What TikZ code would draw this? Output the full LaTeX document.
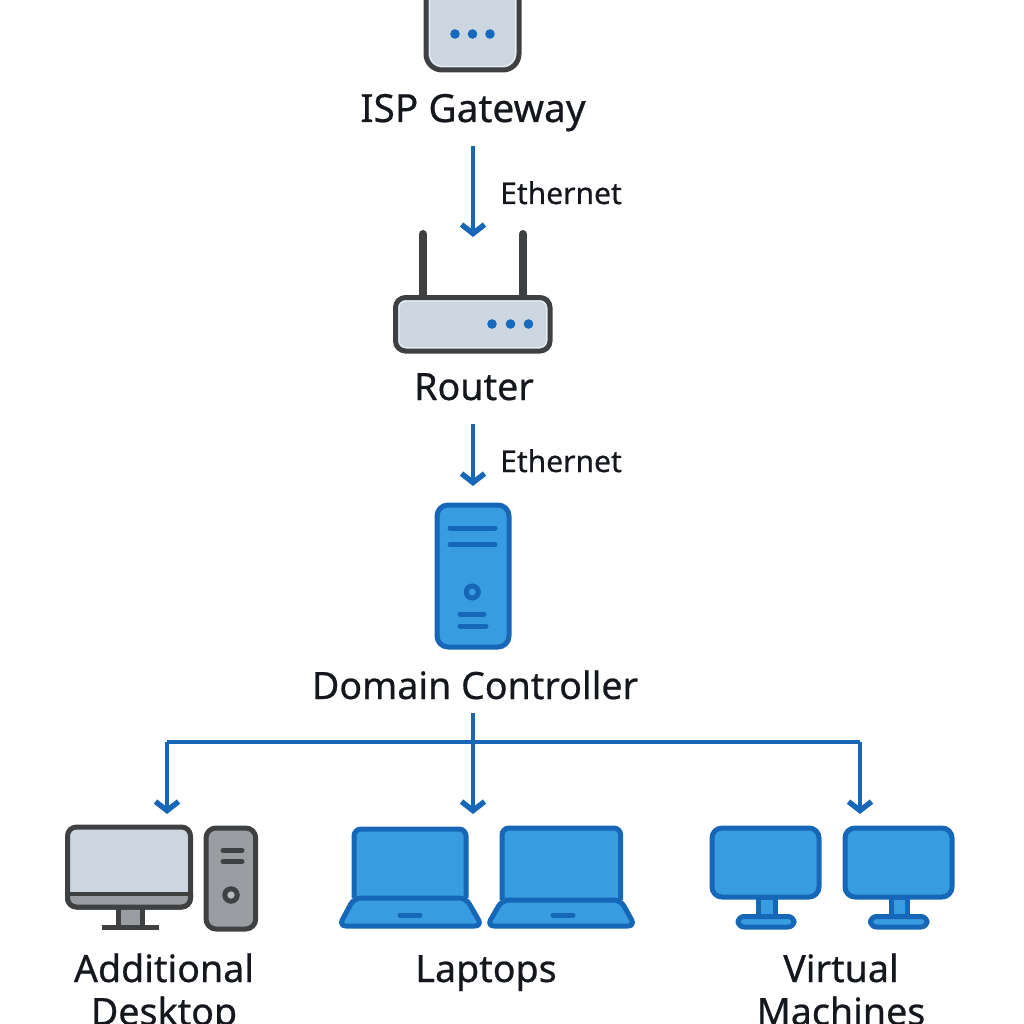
\documentclass[tikz,border=0pt]{standalone}
\usepackage{fontspec}
\setmainfont[FakeBold=0.6]{Noto Sans}
\usetikzlibrary{arrows.meta}
\definecolor{darkline}{HTML}{3F4042}
\definecolor{paleface}{HTML}{CCD6E0}
\definecolor{paleedge}{HTML}{E8EEF3}
\definecolor{greyface}{HTML}{9A9DA1}
\definecolor{blueface}{HTML}{379CE0}
\definecolor{blueline}{HTML}{1667B7}
\definecolor{dotblue}{HTML}{1669BC}
\definecolor{inktext}{HTML}{14171C}
\tikzset{
  x=1pt,y=-1pt,
  paleshape/.style={draw=darkline,fill=paleface,line width=5pt},
  greyshape/.style={draw=darkline,fill=greyface,line width=5pt},
  blueshape/.style={draw=blueline,fill=blueface,line width=5pt,line join=round},
  sheen/.style={draw=paleedge,line width=1pt},
  darkbar/.style={draw=darkline,line width=5pt,line cap=round},
  bluebar/.style={draw=blueline,line width=5pt,line cap=round},
  leddot/.style={circle,fill=dotblue,inner sep=0pt,minimum size=9.6pt},
  mainlabel/.style={text=inktext,font=\fontsize{37.6}{43}\selectfont,align=center,inner sep=0pt,anchor=base},
  linklabel/.style={text=inktext,font=\fontsize{30}{36}\selectfont,anchor=base west,inner sep=0pt},
  link/.style={draw=blueline,line width=4pt,-{Straight Barb[length=9pt,width=23pt,line width=5.4pt]}},
  trunk/.style={draw=blueline,line width=4pt},
}
\begin{document}
\begin{tikzpicture}
\path[use as bounding box] (0,0) rectangle (1024,1024);
\clip (0,0) rectangle (1024,1024);
% ISP gateway
\draw[paleshape,rounded corners=16pt] (426,-30) rectangle (519,70);
\draw[sheen,rounded corners=13pt] (429.5,-30) rectangle (515.5,66.5);
\node[leddot] (g1) at (455,34) {};
\node[leddot] (g2) at (472.5,34) {};
\node[leddot] (g3) at (490,34) {};
\node[mainlabel,font=\fontsize{38.8}{43}\selectfont] (isp) at (473,122) {ISP Gateway};
% router
\draw[draw=darkline,line width=8pt,line cap=round] (423,234) -- (423,297);
\draw[draw=darkline,line width=8pt,line cap=round] (522.7,234) -- (522.7,297);
\draw[paleshape,rounded corners=10pt] (395.5,297.5) rectangle (550,351);
\draw[sheen,rounded corners=7pt] (399,301) rectangle (546.5,347.5);
\node[leddot] (r1) at (492,324) {};
\node[leddot] (r2) at (510.5,324) {};
\node[leddot] (r3) at (528.5,324) {};
\node[mainlabel] (router) at (474,400) {Router};
% domain controller
\draw[blueshape,rounded corners=11pt] (437,505) rectangle (509,647);
\draw[bluebar] (450,528) -- (495,528);
\draw[bluebar] (450,544.5) -- (495,544.5);
\draw[blueline,line width=5pt,fill=blueface] (472.3,592) circle (6pt);
\draw[bluebar] (460,614) -- (484,614);
\draw[bluebar] (460,626) -- (486,626);
\node[mainlabel] (dc) at (475,699) {Domain Controller};
% desktop
\fill[greyface] (118.5,905) rectangle (142,927);
\draw[draw=darkline,line width=5pt] (118.5,907) -- (118.5,927) (142,907) -- (142,927);
\draw[draw=darkline,line width=5pt] (102,927) -- (159,927);
\draw[paleshape,rounded corners=9pt] (67.5,827) rectangle (190.5,907);
\begin{scope}
\clip (60,894) rectangle (200,915);
\draw[greyshape,rounded corners=9pt] (67.5,827) rectangle (190.5,907);
\end{scope}
\draw[draw=darkline,line width=4.4pt] (67.5,894) -- (190.5,894);
\draw[greyshape,rounded corners=10pt] (206,828) rectangle (255.7,929);
\draw[darkbar] (223,850.5) -- (242,850.5);
\draw[darkbar] (223,861.5) -- (242,861.5);
\draw[darkline,line width=5pt,fill=greyface!70!white] (231,895) circle (6.2pt);
\node[mainlabel] (desk) at (164,1025) {Additional\\[0pt]Desktop};
% laptops
\draw[blueshape,rounded corners=7pt] (354,898) -- (354,829) -- (466,829) -- (466,898);
\draw[blueshape,rounded corners=7pt] (354,898) -- (339,926) -- (482,926) -- (466,898) -- cycle;
\draw[bluebar] (400,915) -- (420,915);
\draw[blueshape,rounded corners=7pt] (502,900) -- (502,828) -- (620.7,828) -- (620.7,900);
\draw[blueshape,rounded corners=7pt] (502,900) -- (487,926) -- (635,926) -- (620.7,900) -- cycle;
\draw[bluebar] (553,915) -- (573,915);
\node[mainlabel] (laps) at (486,982) {Laptops};
% virtual machines
\draw[blueshape] (758,897) rectangle (775,916);
\draw[blueshape,rounded corners=6pt] (738,916.5) rectangle (794,927);
\draw[blueshape,rounded corners=10pt] (712,828) rectangle (819,897);
\draw[blueshape] (891,897) rectangle (907,916);
\draw[blueshape,rounded corners=6pt] (870.5,916.5) rectangle (927,927);
\draw[blueshape,rounded corners=10pt] (845,828) rectangle (952,897);
\node[mainlabel] (vms) at (841,1025) {Virtual\\[0pt]Machines};
% connector ends
\coordinate (a1s) at (473,146);
\coordinate (a1e) at (473,237);
\coordinate (a2s) at (473,424);
\coordinate (a2e) at (473,486);
\coordinate (trs) at (473,713);
\coordinate (trl) at (167,742);
\coordinate (trr) at (860,742);
\coordinate (tol) at (167,814);
\coordinate (tom) at (473,814);
\coordinate (tor) at (860,814);
\draw[link] (a1s) -- (a1e);
\node[linklabel] (eth1) at (500,204) {Ethernet};
\draw[link] (a2s) -- (a2e);
\node[linklabel] (eth2) at (500,472) {Ethernet};
\draw[trunk] (trl) -- (trr);
\draw[link] (trs) -- (tom);
\draw[link] (trl) -- (tol);
\draw[link] (trr) -- (tor);
\end{tikzpicture}
\end{document}
